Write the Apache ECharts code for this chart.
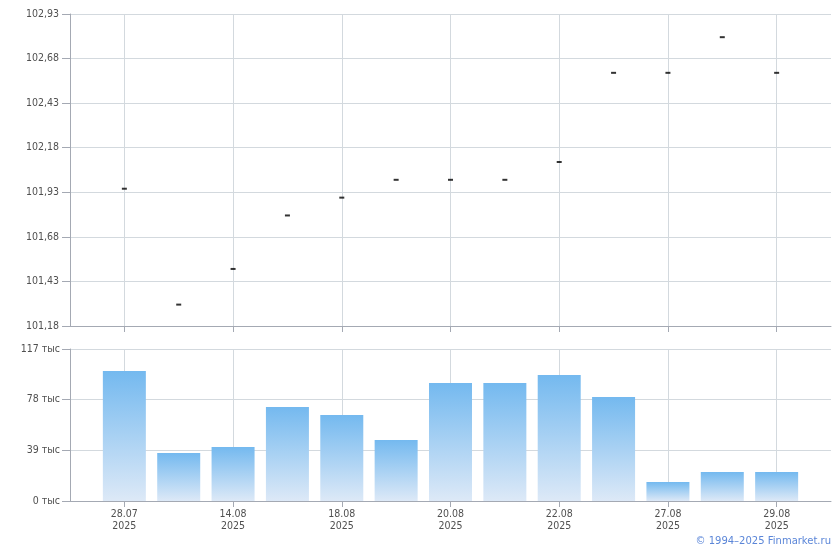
<!DOCTYPE html>
<html>
<head>
<meta charset="utf-8">
<script src="https://cdn.jsdelivr.net/npm/echarts@6/dist/echarts.min.js"></script>
<style>
html,body{margin:0;padding:0;background:#fff;}
#chart{width:840px;height:550px;}
</style>
</head>
<body>
<div id="chart"></div>
<script>
// ---- data ----
const dates = ['28.07','13.08','14.08','15.08','18.08','19.08','20.08','21.08','22.08','26.08','27.08','28.08','29.08'];
const year = '2025';
const priceValues = [101.95,101.30,101.50,101.80,101.90,102.00,102.00,102.00,102.10,102.60,102.60,102.80,102.60];
const volumeValues = [100,37,41.6,72.4,66.2,47,90.8,90.8,97,80,14.6,22.3,22.3]; // thousands
const priceTicks = {min:101.18, max:102.93, interval:0.25};
const volumeTicks = {min:0, max:117, interval:39};
const copyright = '© 1994–2025 Finmarket.ru';

// padded category axis (one empty slot on each side)
const axisCats = [''].concat(dates.map(d => d + '\n' + year)).concat(['']);
const pad = arr => [null].concat(arr).concat([null]);
const showIdx = (i) => i >= 1 && i <= dates.length && (i - 1) % 2 === 0;

const FONT = 'DejaVu Sans Condensed';
const TXT = '#505050';
const AXIS = '#a4a9b3';
const GRID = '#d3d9de';

const chart = echarts.init(document.getElementById('chart'), null, {renderer:'canvas'});
const xAxisBase = {
  type:'category', data:axisCats, boundaryGap:false,
  axisLine:{lineStyle:{color:AXIS,width:1}},
  axisTick:{show:true, length:6, interval:(i)=>showIdx(i), lineStyle:{color:AXIS}},
  splitLine:{show:true, interval:(i)=>showIdx(i), lineStyle:{color:GRID,width:1}}
};
chart.setOption({
  animation:false,
  textStyle:{fontFamily:FONT},
  grid:[
    {left:70, right:9, top:14, height:312},
    {left:70, right:9, top:349, height:152}
  ],
  xAxis:[
    Object.assign({}, xAxisBase, {gridIndex:0, axisLabel:{show:false}}),
    Object.assign({}, xAxisBase, {gridIndex:1,
      axisLabel:{show:true, interval:(i)=>showIdx(i), color:TXT, fontFamily:FONT, fontSize:10.5, lineHeight:12, margin:7}})
  ],
  yAxis:[
    {type:'value', gridIndex:0, min:priceTicks.min, max:priceTicks.max, interval:priceTicks.interval,
     axisLine:{show:true, lineStyle:{color:AXIS}},
     axisTick:{show:true, length:8, lineStyle:{color:AXIS}},
     splitLine:{lineStyle:{color:GRID}},
     axisLabel:{color:TXT, fontFamily:FONT, fontSize:10.5, margin:11,
       formatter:v=>v.toFixed(2).replace('.',',')}},
    {type:'value', gridIndex:1, min:volumeTicks.min, max:volumeTicks.max, interval:volumeTicks.interval,
     axisLine:{show:true, lineStyle:{color:AXIS}},
     axisTick:{show:true, length:8, lineStyle:{color:AXIS}},
     splitLine:{lineStyle:{color:GRID}},
     axisLabel:{color:TXT, fontFamily:FONT, fontSize:10.5, margin:10,
       formatter:v=>Math.round(v)+' тыс'}}
  ],
  series:[
    {type:'scatter', xAxisIndex:0, yAxisIndex:0, data:pad(priceValues),
     symbol:'rect', symbolSize:[5,2], itemStyle:{color:'#000'}, silent:true},
    {type:'bar', xAxisIndex:1, yAxisIndex:1, data:pad(volumeValues), barWidth:43,
     itemStyle:{color:new echarts.graphic.LinearGradient(0,0,0,1,[
       {offset:0,color:'#74b9ef'},{offset:1,color:'#dde9f7'}])}}
  ],
  graphic:[
    {type:'text', right:9, bottom:4,
     style:{text:copyright, fill:'#5b86d8', font:'10px "DejaVu Sans"', textAlign:'right'}}
  ]
});
</script>
</body>
</html>
